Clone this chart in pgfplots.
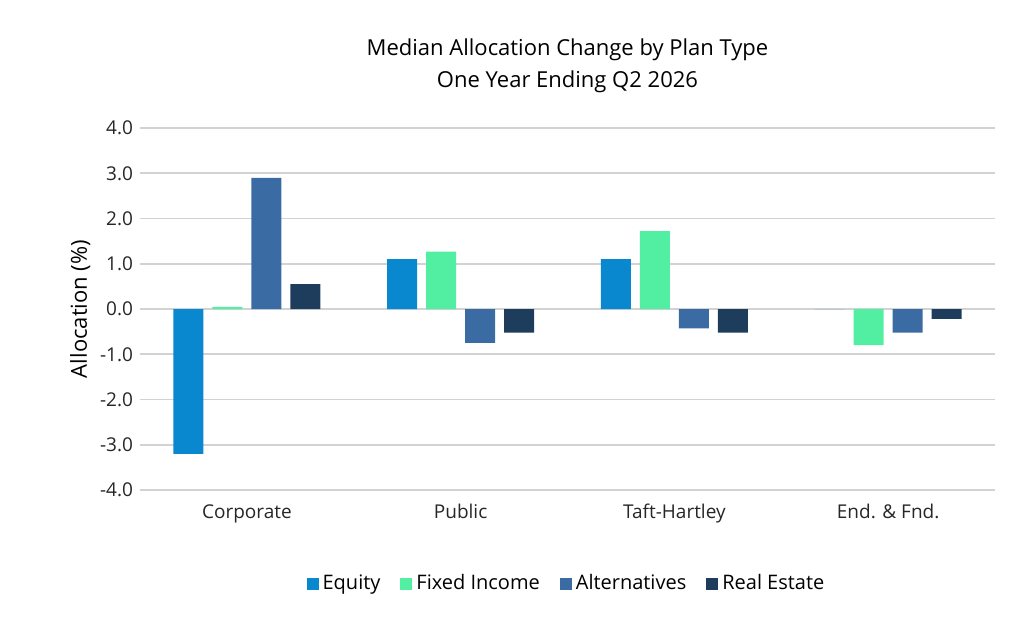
\documentclass[border=0pt]{standalone}
\usepackage{pgfplots}
\pgfplotsset{compat=1.18}
\usepackage{fontspec}
\setmainfont{Open Sans}
\definecolor{eq}{HTML}{0A88CF}
\definecolor{fi}{HTML}{52EFA2}
\definecolor{al}{HTML}{3A6CA3}
\definecolor{re}{HTML}{1E3D5C}
\begin{document}
\begin{tikzpicture}
\path[use as bounding box] (-70pt,-66.5pt) rectangle (442pt,245pt);
\begin{axis}[
  at={(0,0)}, anchor=south west,
  scale only axis, width=427.5pt, height=181pt,
  ybar=4.5pt, bar width=15pt,
  xmin=-0.5, xmax=3.5, ymin=-4, ymax=4,
  xtick={0,1,2,3}, xticklabels={Corporate,Public,Taft-Hartley,End. \& Fnd.},
  ytick={-4,-3,...,4},
  yticklabel={\pgfmathprintnumber[fixed,fixed zerofill,precision=1]{\tick}},
  /pgf/number format/assume math mode=true,
  axis line style={draw=none}, major tick length=0pt,
  ymajorgrids, grid style={gray!35, line width=0.8pt},
  xticklabel style={yshift=-3pt},
  every tick label/.style={font=\fontsize{9.5}{11}\selectfont, text=black!85},
  typeset ticklabels with strut,
  ylabel={Allocation (\%)}, ylabel style={font=\fontsize{11}{13}\selectfont, yshift=-2pt},
  title={Median Allocation Change by Plan Type\\One Year Ending Q2 2026},
  title style={align=center, font=\fontsize{11}{16}\selectfont, yshift=8pt},
  legend style={at={(0.5,-0.21)}, anchor=north, draw=none, legend columns=4,
    font=\fontsize{10}{12}\selectfont, /tikz/every even column/.append style={column sep=8pt}},
  legend image code/.code={\fill[#1] (0pt,-3pt) rectangle (6pt,3pt);},
]
\addplot[fill=eq, draw=none] coordinates {(0,-3.2) (1,1.1) (2,1.1) (3,0)};
\addplot[fill=fi, draw=none] coordinates {(0,0.05) (1,1.27) (2,1.72) (3,-0.8)};
\addplot[fill=al, draw=none] coordinates {(0,2.9) (1,-0.75) (2,-0.43) (3,-0.52)};
\addplot[fill=re, draw=none] coordinates {(0,0.55) (1,-0.52) (2,-0.52) (3,-0.22)};
\legend{Equity,Fixed Income,Alternatives,Real Estate}
\end{axis}
\end{tikzpicture}
\end{document}
